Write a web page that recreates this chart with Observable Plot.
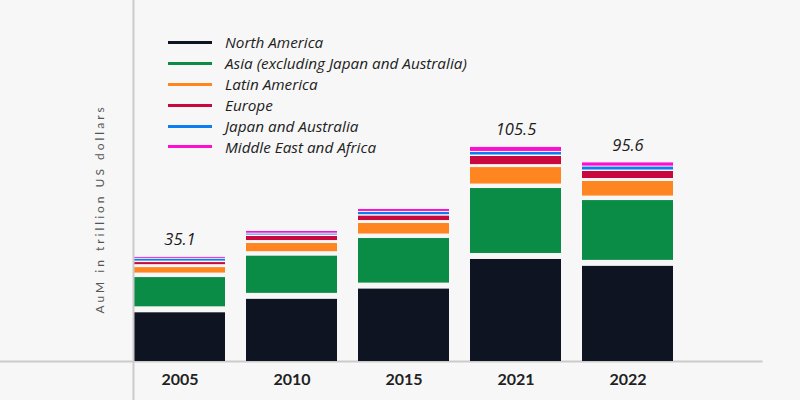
<!DOCTYPE html>
<html>
<head>
<meta charset="utf-8">
<script src="https://cdn.jsdelivr.net/npm/d3@7"></script>
<script src="https://cdn.jsdelivr.net/npm/@observablehq/plot@0.6"></script>
<style>
  html, body { margin: 0; padding: 0; background: #f7f7f7; }
  #chart { position: relative; width: 800px; height: 400px; }
  .legend { position: absolute; left: 168px; top: 32px; font-family: "Open Sans", sans-serif; font-style: italic; font-size: 15.3px; color: #222; }
  .legend .row { display: flex; align-items: center; height: 20.9px; white-space: nowrap; }
  .legend .swatch { width: 44px; height: 3px; margin-right: 13px; }
  #chart svg g[aria-label="x-axis tick label"] text { font-family: Lato, sans-serif; font-size: 16px; font-weight: 700; fill: #222; }
</style>
</head>
<body>
<div id="chart"></div>
<script>
// Assets under management by region, trillion US dollars
const years = ["2005", "2010", "2015", "2021", "2022"];
const regions = [
  "North America",
  "Asia (excluding Japan and Australia)",
  "Latin America",
  "Europe",
  "Japan and Australia",
  "Middle East and Africa"
];
const colors = ["#0f1423", "#0a8b46", "#fe851f", "#c8083f", "#0b7ef0", "#fc0fd0"];

const northAmerica     = [15.2, 19.4, 22.6, 33.8, 29.7];
const asiaExJapanAus   = [11.0, 16.5, 24.6, 45.4, 41.8];
const latinAmerica     = [3.1, 8.1, 9.6, 13.4, 12.2];
const europe           = [2.5, 4.5, 4.7, 7.1, 6.4];
const japanAustralia   = [2.1, 1.5, 2.4, 2.6, 2.8];
const middleEastAfrica = [1.2, 1.7, 1.9, 3.2, 2.7];

// Years whose stack total is printed above the bar
const labelledYears = ["2005", "2021", "2022"];

const yTitle = "AuM in trillion US dollars";

// White gap under each segment (px), bottom series first
const gaps = [0, 6, 4.5, 3, 1.5, 1];

const series = [northAmerica, asiaExJapanAus, latinAmerica, europe, japanAustralia, middleEastAfrica];

// Stack the regions in legend order
const rows = [];
years.forEach((year, i) => {
  let base = 0;
  regions.forEach((region, j) => {
    const value = series[j][i];
    rows.push({year, region, value, y1: base, y2: base + value});
    base += value;
  });
});

const totals = years
  .map((year, i) => ({year, total: d3.sum(series, s => s[i])}))
  .filter(d => labelledYears.includes(d.year));

// Value axis: the first 30 trillion are drawn at a stretched rate, above that linearly
const breakAt = 30, stretch = 2.05;
const warp = v => v <= breakAt ? v * stretch : breakAt * stretch + (v - breakAt);

const width = 800, height = 400, marginLeft = 133, marginRight = 125.5, marginBottom = 39, marginTop = 61.8;

const chart = Plot.plot({
  width, height,
  marginLeft, marginRight, marginBottom, marginTop,
  style: {background: "#f7f7f7", fontFamily: "Lato, sans-serif", color: "#222"},
  x: {domain: years, paddingInner: 0.187, paddingOuter: 0},
  y: {axis: null, transform: warp, domain: [0, warp(160)]},
  marks: [
    Plot.ruleY([0], {stroke: "#cbcbcb", strokeWidth: 2, insetLeft: -marginLeft, insetRight: -88}),
    ...regions.map((region, j) => Plot.barY(rows.filter(r => r.region === region), {
      x: "year", y1: "y1", y2: "y2", fill: colors[j], insetBottom: gaps[j]
    })),
    Plot.text(totals, {
      x: "year", y: "total", text: d => d.total.toFixed(1),
      dy: -12, lineAnchor: "bottom", fontSize: 16.5, fontStyle: "italic",
      fontFamily: "'Open Sans', sans-serif", fill: "#1c1c1c"
    }),
    Plot.text([yTitle], {
      frameAnchor: "left", textAnchor: "middle", rotate: -90, dx: -33, dy: -3,
      fontSize: 12, fill: "#555"
    }),
    Plot.axisX({tickSize: 0, tickPadding: 12, label: null})
  ]
});

// spaced-out lettering for the value-axis title
d3.select(chart).selectAll("text").filter(function() { return this.textContent === yTitle; })
  .attr("letter-spacing", 3);

// vertical axis line at the left edge of the bars, full height
const xRange = chart.scale("x").range;
d3.select(chart).append("line")
  .attr("x1", xRange[0] + 0.5).attr("x2", xRange[0] + 0.5)
  .attr("y1", 0).attr("y2", height)
  .attr("stroke", "#cbcbcb").attr("stroke-width", 2);

const container = document.getElementById("chart");
container.appendChild(chart);

// legend
const legend = d3.select(container).append("div").attr("class", "legend");
regions.forEach((region, j) => {
  const row = legend.append("div").attr("class", "row");
  row.append("span").attr("class", "swatch").style("background", colors[j]);
  row.append("span").text(region);
});
</script>
</body>
</html>
